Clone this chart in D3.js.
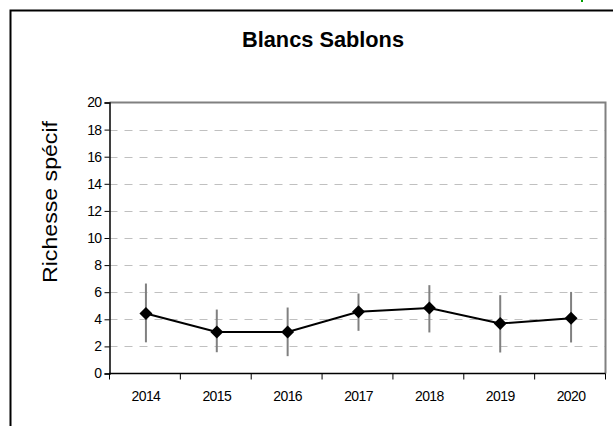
<!DOCTYPE html>
<html>
<head>
<meta charset="utf-8">
<script src="https://cdn.jsdelivr.net/npm/d3@7"></script>
<style>
  html, body { margin: 0; padding: 0; background: #fff; }
  svg { display: block; }
  text { font-family: "Liberation Sans", Arial, sans-serif; fill: #000; }
</style>
</head>
<body>
<svg id="chart" width="613" height="426"></svg>
<script>
// Species richness per year, mean with min/max spread
const years = ["2014", "2015", "2016", "2017", "2018", "2019", "2020"];
const meanRichness = [4.43, 3.07, 3.07, 4.55, 4.84, 3.69, 4.08];
const upperRichness = [6.64, 4.72, 4.87, 5.9, 6.52, 5.78, 6.02];
const lowerRichness = [2.3, 1.57, 1.28, 3.15, 3.03, 1.55, 2.29];
const yTicks = [0, 2, 4, 6, 8, 10, 12, 14, 16, 18, 20];

const svg = d3.select("#chart");
const plot = { left: 109.5, right: 605.5, top: 102.5, bottom: 373.5 };

// outer chart frame
svg.append("path")
  .attr("d", `M10.5,426 V10.5 H613`)
  .attr("fill", "none").attr("stroke", "#000").attr("stroke-width", 2);
// small green corner mark
svg.append("rect").attr("x", 581).attr("y", 0).attr("width", 2).attr("height", 2).attr("fill", "#00a000");

svg.append("text")
  .attr("x", 323).attr("y", 46.5)
  .attr("text-anchor", "middle")
  .attr("font-size", 21.5).attr("font-weight", "bold")
  .attr("textLength", 162).attr("lengthAdjust", "spacingAndGlyphs")
  .text("Blancs Sablons");

const x = d3.scaleBand().domain(years).range([plot.left, plot.right]);
const y = d3.scaleLinear().domain([0, 20]).range([plot.bottom, plot.top]);

// dashed gridlines
svg.append("g").selectAll("line")
  .data(yTicks.filter(t => t > 0 && t < 20))
  .join("line")
  .attr("x1", plot.left).attr("x2", plot.right)
  .attr("y1", d => Math.round(y(d)) + 0.5).attr("y2", d => Math.round(y(d)) + 0.5)
  .attr("stroke", "#c0c0c0").attr("stroke-dasharray", "8,7");

// plot area border (top and right)
svg.append("path")
  .attr("d", `M${plot.left},${y(20)} H${plot.right} V${plot.bottom}`)
  .attr("fill", "none").attr("stroke", "#808080").attr("stroke-width", 2);

// y axis
const yAxis = svg.append("g")
  .attr("transform", `translate(${plot.left},0)`)
  .call(d3.axisLeft(y).tickValues(yTicks).tickSize(5).tickPadding(3).tickFormat(d3.format("d")));
yAxis.attr("font-family", null).attr("font-size", null);
yAxis.select(".domain").attr("stroke", "#000").attr("stroke-width", 1.5);
yAxis.selectAll(".tick line").attr("stroke", "#000");
yAxis.selectAll("text").attr("font-size", 14).attr("letter-spacing", "-0.6");

// x axis with ticks at category boundaries
const xAxisG = svg.append("g").attr("transform", `translate(0,${plot.bottom})`);
xAxisG.append("line")
  .attr("x1", plot.left).attr("x2", plot.right)
  .attr("stroke", "#000").attr("stroke-width", 1.5);
const boundaries = years.map(d => x(d)).concat([x(years[years.length - 1]) + x.bandwidth()]);
xAxisG.selectAll("line.tk").data(boundaries).join("line").attr("class", "tk")
  .attr("x1", d => d).attr("x2", d => d).attr("y1", 0).attr("y2", 6)
  .attr("stroke", "#000");
xAxisG.selectAll("text").data(years).join("text")
  .attr("x", d => x(d) + x.bandwidth() / 2 + 1)
  .attr("y", 27)
  .attr("text-anchor", "middle")
  .attr("font-size", 14).attr("letter-spacing", "-0.6")
  .text(d => d);

// y axis title
svg.append("text")
  .attr("transform", "translate(57,202) rotate(-90)")
  .attr("text-anchor", "middle")
  .attr("font-size", 20.5)
  .attr("textLength", 162).attr("lengthAdjust", "spacingAndGlyphs")
  .text("Richesse spécif");

const cx = d => x(d) + x.bandwidth() / 2 + 1;

// spread bars
svg.append("g").selectAll("line")
  .data(years)
  .join("line")
  .attr("x1", cx).attr("x2", cx)
  .attr("y1", (d, i) => y(upperRichness[i]))
  .attr("y2", (d, i) => y(lowerRichness[i]))
  .attr("stroke", "#808080").attr("stroke-width", 2);

// mean line
svg.append("path")
  .datum(years)
  .attr("d", d3.line().x(cx).y((d, i) => y(meanRichness[i])))
  .attr("fill", "none").attr("stroke", "#000").attr("stroke-width", 2);

// diamond markers
svg.append("g").selectAll("path")
  .data(years)
  .join("path")
  .attr("transform", (d, i) => `translate(${cx(d)},${y(meanRichness[i])})`)
  .attr("d", "M0,-6.5 L6.5,0 L0,6.5 L-6.5,0 Z")
  .attr("fill", "#000");
</script>
</body>
</html>
